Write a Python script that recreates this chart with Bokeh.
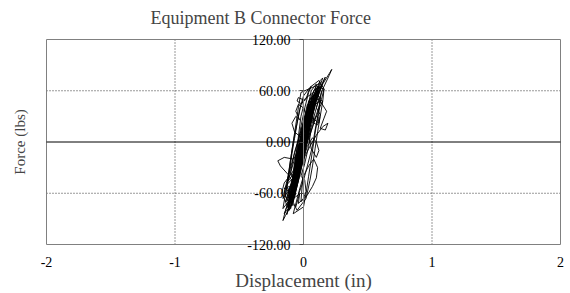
from bokeh.plotting import figure
from bokeh.models import FixedTicker, LinearAxis, PrintfTickFormatter, Range1d
from bokeh.embed import file_html
from bokeh.resources import INLINE

title_text = "Equipment B Connector Force"
x_label = "Displacement (in)"
y_label = "Force (lbs)"
x_ticks = [-2, -1, 0, 1, 2]
x_tick_labels = ["-2", "-1", "0", "1", "2"]
y_ticks = [-120, -60, 0, 60, 120]
x_grid = [-1, 1]
y_grid = [-60, 60]

# displacement (in), traced loop by loop
disp = [
    -0.03, 0.0, 0.02, 0.04, 0.05, 0.02, -0.01, -0.03, -0.05,
    -0.06, -0.02, 0.01, 0.04, 0.07, 0.08, 0.04, 0.01, -0.02, -0.05, -0.08,
    -0.08, -0.04, -0.01, 0.03, 0.06, 0.09, 0.10, 0.06, 0.03, 0.0, -0.04, -0.07, -0.10,
    -0.09, -0.05, -0.01, 0.02, 0.05, 0.08, 0.11, 0.12, 0.10, 0.13, 0.12, 0.07, 0.03, -0.01, -0.05, -0.09,
    -0.11, -0.07, -0.03, 0.01, 0.05, 0.07, 0.10, 0.13, 0.10, 0.05, 0.02, -0.02, -0.05, -0.08, -0.12,
    -0.10, -0.06, -0.02, 0.02, 0.05, 0.06, 0.03, 0.0, -0.03, -0.06, -0.09,
    -0.05, -0.02, 0.01, 0.03, 0.05, 0.03, 0.0, -0.02, -0.04, -0.07,
    -0.08, -0.04, 0.0, 0.04, 0.08, 0.12, 0.15, 0.13, 0.09, 0.05, 0.01, -0.03, -0.06, -0.10,
    -0.13, -0.09, -0.05, -0.02, 0.02, 0.05, 0.08, 0.12, 0.10, 0.06, 0.03, 0.0, -0.04, -0.08, -0.12,
    -0.07, -0.12, -0.18, -0.20, -0.15, -0.08, -0.03, 0.01, 0.04, 0.06, 0.04, 0.01, -0.03, -0.07, -0.10,
    -0.06, -0.02, 0.03, 0.07, 0.10, 0.12, 0.10, 0.06, 0.04, 0.07, 0.09, 0.06, 0.02, -0.02, -0.05,
    -0.09, -0.05, -0.01, 0.03, 0.06, 0.09, 0.11, 0.08, 0.04, 0.0, -0.04, -0.08, -0.11,
    -0.12, -0.08, -0.04, 0.0, 0.04, 0.07, 0.08, 0.05, 0.02, -0.02, -0.06, -0.09, -0.13,
    -0.05, 0.0, 0.05, 0.10, 0.15, 0.20, 0.22, 0.20, 0.15, 0.10, 0.05, 0.0, -0.05,
    -0.09, -0.05, -0.01, 0.02, 0.06, 0.10, 0.13, 0.17, 0.15, 0.11, 0.06, 0.02, -0.02, -0.06, -0.10,
    -0.06, -0.10, -0.14, -0.16, -0.14, -0.10, -0.05, -0.01, 0.03, 0.06, 0.08, 0.05, 0.01, -0.03, -0.07,
    -0.02, 0.0, -0.01, -0.04, -0.05, -0.02, 0.02, 0.04, 0.06, 0.04, 0.01, -0.02, -0.05, -0.08,
    -0.10, -0.06, -0.02, 0.01, 0.04, 0.07, 0.09, 0.07, 0.04, 0.01, -0.02, -0.05, -0.08, -0.11,
    -0.10, -0.06, -0.03, 0.01, 0.04, 0.07, 0.10, 0.12, 0.09, 0.05, 0.02, -0.02, -0.06, -0.09,
    0.02, 0.06, 0.10, 0.12, 0.11, 0.08, 0.07, 0.09, 0.07, 0.03, -0.01, -0.04, -0.07,
    -0.04, -0.08, -0.13, -0.15, -0.11, -0.07, -0.05, -0.02, 0.02, 0.05, 0.07, 0.05, 0.01, -0.03, -0.06,
    -0.08, -0.04, 0.0, 0.03, 0.06, 0.08, 0.10, 0.08, 0.05, 0.01, -0.03, -0.06, -0.09, -0.12,
    -0.11, -0.07, -0.04, 0.0, 0.03, 0.05, 0.07, 0.04, 0.01, -0.02, -0.05, -0.08, -0.10,
    -0.07, -0.03, 0.01, 0.04, 0.06, 0.04, 0.01, -0.02, -0.05, -0.08, -0.06,
    -0.03, 0.0, 0.03, 0.05, 0.07, 0.11, 0.14, 0.12, 0.08, 0.04, 0.0, -0.04, -0.07, -0.09, -0.06, -0.03,
    -0.04, 0.0, 0.02, 0.01, -0.02, 0.01, 0.04, 0.06, 0.03, -0.01, -0.05,
    -0.14, -0.10, -0.05, 0.0, 0.06, 0.10, 0.14, 0.16, 0.12, 0.06, 0.0, -0.04, -0.09, -0.13, -0.16,
    -0.12, -0.06, 0.0, 0.05, 0.09, 0.13, 0.15, 0.10, 0.04, -0.02, -0.07, -0.12,
    0.0, 0.05, 0.10, 0.15, 0.19, 0.17, 0.13, 0.16, 0.18, 0.13, 0.07, 0.01,
    -0.06, -0.11, -0.15, -0.17, -0.14, -0.12, -0.15, -0.12, -0.08, -0.04,
    0.0, -0.04, -0.07, -0.09, -0.06, -0.03, -0.06, -0.04, 0.0, 0.03,
    -0.02, 0.03, 0.07, 0.10, 0.11, 0.08, 0.04, 0.0, -0.03,
    -0.08, 0.0, 0.02, 0.04, 0.06, 0.08, 0.10, 0.12, 0.14, 0.10, 0.04, -0.02, -0.04, -0.06, -0.08, -0.10, -0.12, -0.14, -0.16,
    -0.12, -0.04, 0.0, 0.03, 0.07, 0.09, 0.12, 0.13, 0.08, 0.02, -0.02, -0.05, -0.07, -0.09, -0.11, -0.13,
    -0.05, 0.02, 0.05, 0.07, 0.09, 0.11, 0.13, 0.15, 0.16, 0.12, 0.05, 0.0, -0.03, -0.05, -0.08, -0.10, -0.12, -0.14,
]

# force (lbs), same order
force = [
    -30, -15, 0, 16, 30, 20, 2, -14, -28,
    -55, -30, -5, 20, 42, 55, 48, 25, 0, -25, -50,
    -70, -45, -18, 10, 35, 58, 68, 60, 38, 12, -15, -42, -66,
    -75, -52, -25, 0, 22, 44, 60, 52, 40, 32, 22, 28, 10, -12, -40, -68,
    -80, -60, -35, -8, 18, 40, 57, 70, 66, 50, 30, 5, -20, -45, -72,
    -62, -40, -15, 8, 30, 48, 44, 25, 0, -28, -50,
    -45, -22, 0, 20, 38, 35, 15, -8, -25, -48,
    -65, -42, -12, 14, 40, 62, 75, 72, 58, 36, 10, -18, -45, -70,
    -85, -62, -38, -15, 8, 28, 50, 66, 62, 45, 22, -2, -30, -58, -80,
    -50, -38, -28, -22, -18, -20, -10, 5, 24, 40, 42, 28, 8, -12, -35,
    -55, -30, -5, 5, 0, -10, -18, -8, 10, 30, 45, 42, 22, -5, -32,
    -58, -35, -10, 12, 32, 52, 64, 60, 40, 15, -12, -40, -62,
    -76, -55, -30, -5, 20, 38, 52, 50, 32, 8, -20, -48, -70,
    -40, -10, 20, 48, 68, 80, 85, 78, 62, 40, 12, -18, -45,
    -66, -44, -20, 2, 26, 48, 62, 76, 70, 54, 35, 12, -14, -42, -62,
    -60, -75, -86, -92, -80, -62, -40, -15, 10, 30, 45, 40, 20, -5, -30,
    30, 42, 50, 52, 48, 45, 50, 60, 65, 58, 40, 18, -8, -34,
    -68, -48, -24, -2, 18, 36, 50, 54, 36, 16, -6, -30, -52, -74,
    -78, -56, -34, -8, 14, 34, 55, 60, 46, 28, 6, -20, -48, -70,
    10, 24, 30, 28, 20, 22, 34, 46, 48, 30, 6, -20, -46,
    -30, -42, -50, -55, -52, -54, -38, -14, 8, 26, 44, 45, 24, -2, -26,
    -60, -38, -14, 6, 24, 40, 52, 56, 42, 20, -4, -28, -54, -76,
    -70, -46, -22, 2, 22, 36, 48, 46, 28, 6, -16, -40, -60,
    -50, -26, -4, 16, 30, 32, 14, -8, -28, -52, -56,
    -40, -20, 0, 18, 34, 58, 66, 64, 46, 22, -4, -32, -58, -72, -76, -60,
    -72, -66, -58, -45, -40, -25, -5, 15, 18, 0, -25,
    -70, -52, -30, -8, 14, 32, 50, 62, 64, 48, 24, 2, -24, -46, -66,
    -58, -36, -12, 8, 26, 42, 48, 50, 30, 6, -20, -46,
    -20, -5, 8, 18, 22, 14, 16, 28, 36, 48, 42, 20,
    -30, -40, -48, -60, -70, -78, -84, -72, -56, -40,
    10, 8, 12, 22, 30, 26, 36, 44, 40, 28,
    -70, -62, -52, -42, -30, -20, -28, -40, -55,
    -84, -76, -60, -40, -20, 0, 20, 40, 60, 66, 62, 58, 40, 20, 0, -20, -40, -60, -78,
    -70, -62, -45, -28, -5, 14, 34, 52, 58, 52, 44, 22, 4, -14, -36, -55,
    -80, -66, -45, -28, -8, 12, 30, 48, 62, 72, 64, 54, 38, 22, 0, -20, -42, -64,
]

SERIF = "Liberation Serif"

# layout in pixels: plotted box 514 x 205 px, frame padded so edge labels are not clipped
BOX_W, BOX_H = 514, 205
PAD_X, PAD_Y = 1, 7
x_lo, x_hi = x_ticks[0], x_ticks[-1]
y_lo, y_hi = y_ticks[0], y_ticks[-1]
px_x = (x_hi - x_lo) / BOX_W
px_y = (y_hi - y_lo) / BOX_H

p = figure(width=570, height=293,
           x_range=Range1d(x_lo - PAD_X * px_x, x_hi + PAD_X * px_x),
           y_range=Range1d(y_lo - PAD_Y * px_y, y_hi + PAD_Y * px_y),
           output_backend="svg", toolbar_location=None,
           min_border_left=45, min_border_right=9, min_border_top=32, min_border_bottom=42)
p.title.text = title_text
p.title.text_font = SERIF
p.title.text_font_size = "18px"
p.title.text_font_style = "normal"
p.title.align = "left"
p.title.offset = 105
p.title.standoff = 9
p.outline_line_color = None
p.xgrid.visible = False
p.ygrid.visible = False

# dotted grid lines inside the box
p.segment(x0=x_grid, y0=[y_lo] * len(x_grid), x1=x_grid, y1=[y_hi] * len(x_grid),
          line_color="#333333", line_dash="1 2", line_width=1)
p.segment(x0=[x_lo] * len(y_grid), y0=y_grid, x1=[x_hi] * len(y_grid), y1=y_grid,
          line_color="#333333", line_dash="1 2", line_width=1)

# plot-area border
p.quad(left=[x_lo], right=[x_hi], bottom=[y_lo], top=[y_hi],
       fill_color=None, line_color="#808080", line_width=1)

# horizontal zero line
p.segment(x0=[x_lo], y0=[0], x1=[x_hi], y1=[0], line_color="black", line_width=1)

# data
p.line(disp, force, line_color="black", line_width=0.9)

# x axis (labels at bottom)
xa = p.xaxis[0]
xa.ticker = FixedTicker(ticks=x_ticks)
xa.major_label_overrides = dict(zip(x_ticks, x_tick_labels))
xa.axis_line_color = None
xa.major_tick_line_color = None
xa.minor_tick_line_color = None
xa.major_tick_out = 0
xa.minor_tick_out = 0
xa.major_label_standoff = 5
xa.major_label_text_font = SERIF
xa.major_label_text_font_size = "14px"
xa.major_label_text_color = "black"
xa.axis_label = x_label
xa.axis_label_text_font = SERIF
xa.axis_label_text_font_size = "19px"
xa.axis_label_text_font_style = "normal"
xa.axis_label_standoff = 0

# y axis crossing at x = 0
ya = p.yaxis[0]
ya.fixed_location = 0
ya.bounds = (y_lo, y_hi)
ya.ticker = FixedTicker(ticks=y_ticks)
ya.formatter = PrintfTickFormatter(format="%.2f")
ya.axis_line_color = "#808080"
ya.major_tick_line_color = "#404040"
ya.major_tick_out = 4
ya.major_tick_in = 0
ya.minor_tick_line_color = None
ya.minor_tick_out = 0
ya.major_label_standoff = 9
ya.major_label_text_font = SERIF
ya.major_label_text_font_size = "14px"
ya.major_label_text_color = "black"

# y axis title on the left edge
yl = LinearAxis(ticker=FixedTicker(ticks=[]), axis_line_color=None,
                major_tick_line_color=None, minor_tick_line_color=None,
                major_tick_out=0, minor_tick_out=0,
                axis_label=y_label, axis_label_text_font=SERIF,
                axis_label_text_font_size="15px", axis_label_text_font_style="normal",
                axis_label_standoff=18)
p.add_layout(yl, "left")

open("out.html", "w").write(file_html(p, INLINE))
